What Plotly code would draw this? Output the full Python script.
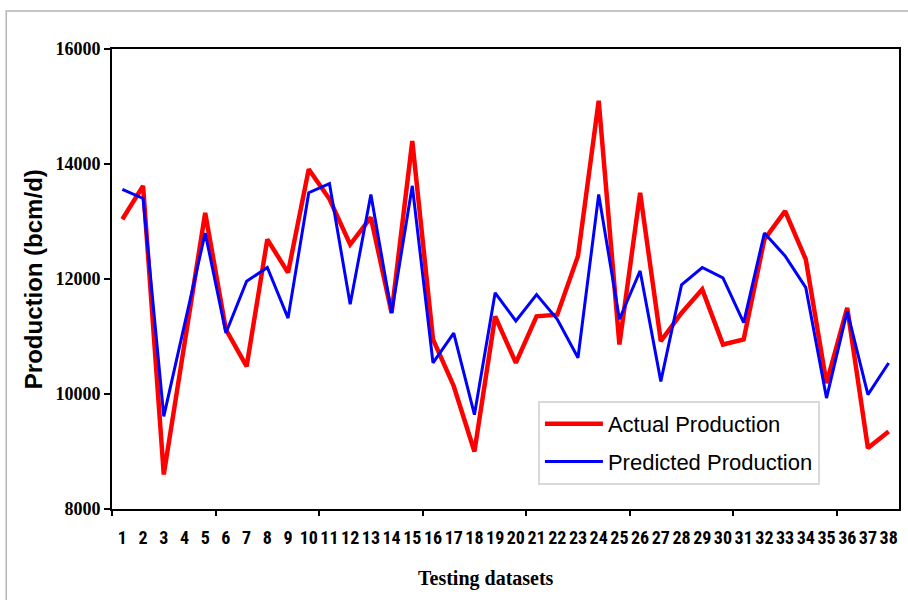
import plotly.graph_objects as go

# Testing dataset index and production values (bcm/d)
datasets = list(range(1, 39))
actual_production = [
    13040, 13620, 8600, 10870, 13150, 11120, 10480, 12690, 12110, 13910,
    13390, 12600, 13070, 11410, 14400, 10950, 10140, 9000, 11350, 10540,
    11350, 11380, 12400, 15100, 10860, 13500, 10920, 11410, 11820, 10860,
    10950, 12690, 13180, 12340, 10190, 11500, 9060, 9350,
]
predicted_production = [
    13560, 13400, 9610, 11210, 12800, 11060, 11960, 12200, 11320, 13500,
    13660, 11560, 13470, 11410, 13620, 10540, 11060, 9640, 11760, 11270,
    11730, 11300, 10630, 13470, 11300, 12140, 10220, 11900, 12200, 12020,
    11240, 12800, 12400, 11850, 9930, 11440, 9990, 10540,
]
y_ticks = [8000, 10000, 12000, 14000, 16000]
# category boundaries that carry tick marks (every 5 datasets)
x_tick_marks = [0.5, 5.5, 10.5, 15.5, 20.5, 25.5, 30.5, 35.5]

W, H = 908, 600
ML, MR, MT, MB = 112, 7, 49, 91
PW, PH = W - ML - MR, H - MT - MB


def px_x(p):
    return (p - ML) / PW


def px_y(p):
    return (H - MB - p) / PH


fig = go.Figure()
fig.add_trace(go.Scatter(
    x=datasets, y=actual_production, mode="lines", name="Actual Production",
    line=dict(color="#FF0000", width=4.5), legendgroup="a",
))
fig.add_trace(go.Scatter(
    x=datasets, y=predicted_production, mode="lines", name="Predicted Production",
    line=dict(color="#0000FF", width=3), legendgroup="p",
))
# invisible trace to carry the secondary x axis with boundary tick marks
fig.add_trace(go.Scatter(
    x=[0.5, 38.5], y=[None, None], xaxis="x2", showlegend=False,
    hoverinfo="skip", mode="lines",
))

fig.update_layout(
    width=W, height=H,
    margin=dict(l=ML, r=MR, t=MT, b=MB),
    paper_bgcolor="white", plot_bgcolor="white",
    showlegend=True,
    legend=dict(
        x=px_x(539), y=px_y(401), xanchor="left", yanchor="top",
        bgcolor="white", bordercolor="#d9d9d9", borderwidth=2,
        font=dict(family="Liberation Sans", size=22, color="black"),
        traceorder="grouped", tracegroupgap=6,
        itemwidth=58,
    ),
    xaxis=dict(
        range=[0.5, 38.5], tickmode="array", tickvals=datasets,
        ticktext=[str(d) for d in datasets], ticks="", tickangle=0,
        showgrid=False, zeroline=False,
        showline=True, linecolor="black", linewidth=2, mirror=True,
        tickfont=dict(family="Liberation Sans Narrow, Roboto Condensed, Lato",
                      size=18, color="black", weight="bold"),
        ticklabelstandoff=11,
    ),
    xaxis2=dict(
        range=[0.5, 38.5], overlaying="x", side="bottom",
        tickmode="array", tickvals=x_tick_marks, showticklabels=False,
        ticks="outside", ticklen=6, tickwidth=2, tickcolor="black",
        showgrid=False, zeroline=False, showline=False,
    ),
    yaxis=dict(
        range=[8000, 16000], tickmode="array", tickvals=y_ticks,
        ticktext=[str(v) for v in y_ticks],
        ticks="outside", ticklen=6, tickwidth=2, tickcolor="black",
        showgrid=False, zeroline=False,
        showline=True, linecolor="black", linewidth=2, mirror=True,
        tickfont=dict(family="Liberation Serif", size=18, color="black", weight="bold"),
    ),
    annotations=[
        dict(
            text="Production (bcm/d)", textangle=-90,
            xref="paper", yref="paper", x=px_x(33), y=px_y(279),
            xanchor="center", yanchor="middle", showarrow=False,
            font=dict(family="Liberation Sans", size=24, color="black", weight="bold"),
        ),
        dict(
            text="Testing datasets",
            xref="paper", yref="paper", x=px_x(487), y=px_y(578),
            xanchor="center", yanchor="middle", showarrow=False,
            font=dict(family="Liberation Serif", size=20, color="black", weight="bold"),
        ),
    ],
    shapes=[
        dict(
            type="rect", xref="paper", yref="paper",
            x0=px_x(6), x1=px_x(915), y0=px_y(610), y1=px_y(11),
            line=dict(color="#b4b4b4", width=1.5), fillcolor="rgba(0,0,0,0)",
            layer="below",
        ),
    ],
)

fig.write_html("out.html")
